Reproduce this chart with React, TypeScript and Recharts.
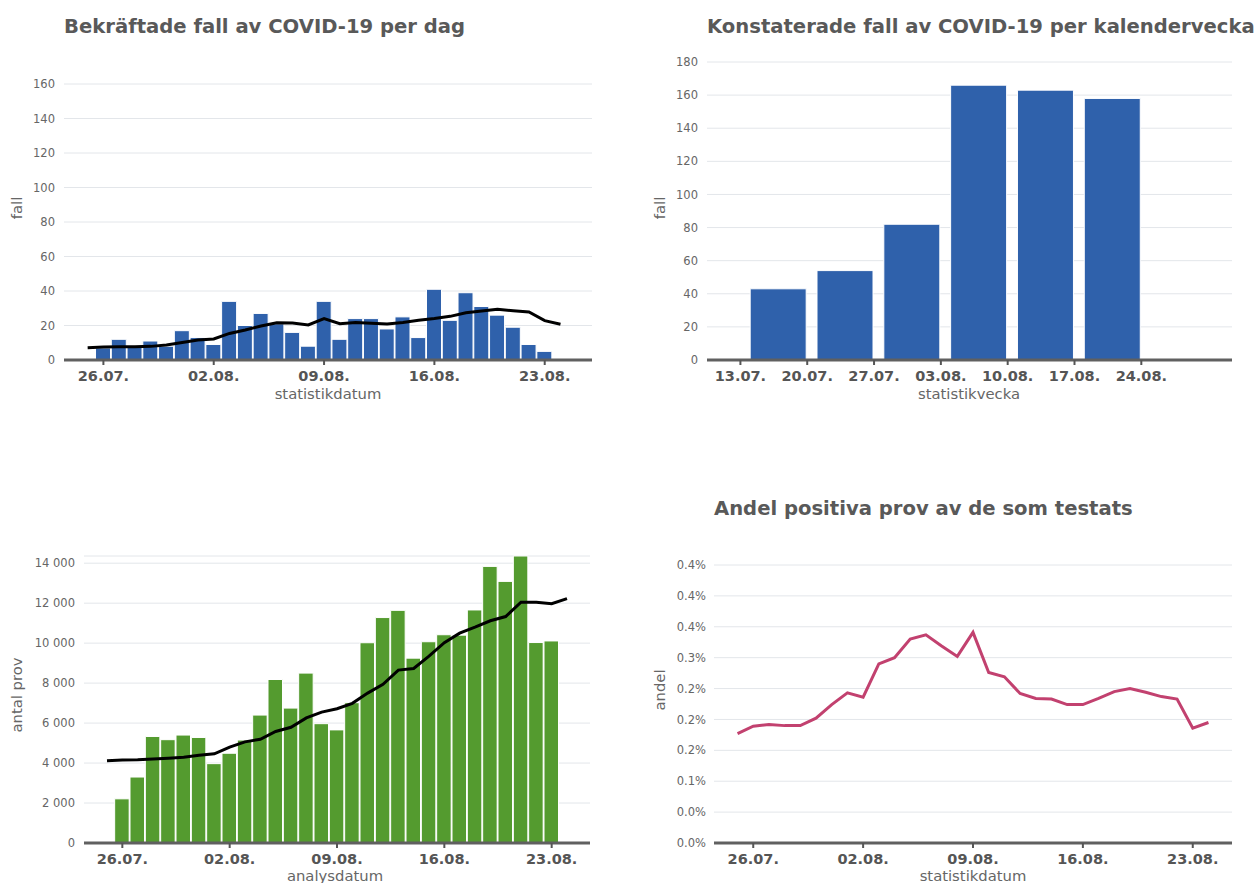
import React from 'react'
import { ComposedChart, BarChart, LineChart, Bar, Line, XAxis, YAxis, CartesianGrid } from 'recharts'

// days 25.07. .. 24.08.
const dayLabels = [
  '25.07.', '26.07.', '27.07.', '28.07.', '29.07.', '30.07.', '31.07.',
  '01.08.', '02.08.', '03.08.', '04.08.', '05.08.', '06.08.', '07.08.', '08.08.', '09.08.',
  '10.08.', '11.08.', '12.08.', '13.08.', '14.08.', '15.08.', '16.08.', '17.08.', '18.08.',
  '19.08.', '20.08.', '21.08.', '22.08.', '23.08.', '24.08.',
]
const dayTicks = [1, 8, 15, 22, 29]

const dailyCases = [
  null, 7, 12, 8, 11, 8, 17, 13, 9, 34, 20, 27, 21, 16, 8, 34,
  12, 24, 24, 18, 25, 13, 41, 23, 39, 31, 26, 19, 9, 5, null,
]
const casesAvg = [
  7.1, 7.5, 7.7, 7.7, 7.9, 8.7, 10.2, 11.6, 12.2, 15.4, 17.4, 19.7, 21.6, 21.4, 20.3, 24.0,
  21.0, 21.8, 21.3, 20.9, 21.8, 23.0, 24.0, 25.3, 27.4, 28.4, 29.4, 28.6, 27.8, 22.8, 20.7,
]

const dailyTests = [
  null, 2210, 3300, 5330, 5170, 5400, 5280, 3970, 4490, 5150, 6400, 8180, 6750, 8500, 5970, 5660,
  7020, 10020, 11280, 11640, 9250, 10070, 10420, 10400, 11660, 13840, 13090, 14360, 10030, 10110, null,
]
const testsAvg = [
  4110, 4150, 4160, 4200, 4240, 4290, 4390, 4460, 4800, 5060, 5190, 5580, 5790, 6260, 6550, 6720,
  6990, 7500, 7940, 8650, 8730, 9350, 10020, 10500, 10800, 11120, 11330, 12050, 12050, 11970, 12230,
]

// percent
const positiveShare = [
  0.177, 0.189, 0.192, 0.190, 0.190, 0.202, 0.224, 0.243, 0.236, 0.290, 0.300, 0.330, 0.337, 0.319, 0.302, 0.341,
  0.276, 0.269, 0.242, 0.234, 0.233, 0.224, 0.224, 0.234, 0.245, 0.250, 0.244, 0.237, 0.233, 0.186, 0.195,
]
const shareTicks = [0, 0.05, 0.1, 0.15, 0.2, 0.25, 0.3, 0.35, 0.4, 0.45]
const shareTickLabels = ['0.0%', '0.0%', '0.1%', '0.2%', '0.2%', '0.2%', '0.3%', '0.4%', '0.4%', '0.4%']

// weeks, day offset from 13.07.
const weekTickDays = [0, 7, 14, 21, 28, 35, 42]
const weekTickLabels = ['13.07.', '20.07.', '27.07.', '03.08.', '10.08.', '17.08.', '24.08.']
const weekBarDays = [4, 11, 18, 25, 32, 39]
const weeklyCases = [43, 54, 82, 166, 163, 158]

const casesTicks = [0, 20, 40, 60, 80, 100, 120, 140, 160]
const weekCasesTicks = [0, 20, 40, 60, 80, 100, 120, 140, 160, 180]
const testsTicks = [0, 2000, 4000, 6000, 8000, 10000, 12000, 14000]

const FONT = '"DejaVu Sans", sans-serif'
const BLUE = '#2f61ab'
const GREEN = '#549b2f'
const PINK = '#c2416f'
const GRID = '#e3e6ea'
const AXIS = '#606060'

const dailyRows = dayLabels.map((d, i) => ({
  x: i, cases: dailyCases[i], casesAvg: casesAvg[i], tests: dailyTests[i], testsAvg: testsAvg[i], share: positiveShare[i],
}))
const weekRows = weeklyCases.map((v, i) => ({ x: weekBarDays[i], cases: v }))

const yTick = { fill: '#666', fontSize: 11.5, fontFamily: FONT }
const xTick = { fill: '#555', fontSize: 14.5, fontWeight: 'bold', fontFamily: FONT }

const fmtThousands = (v: number) => (v >= 1000 ? `${Math.floor(v / 1000)} ${String(v % 1000).padStart(3, '0')}` : String(v))

function Title({ text, left, top }: { text: string, left: number, top: number }) {
  return (
    <div style={{ position: 'absolute', left, top, fontSize: 19.6, fontWeight: 'bold', color: '#595959', whiteSpace: 'nowrap', lineHeight: '22px' }}>
      {text}
    </div>
  )
}

function AxisTitle({ text, cx, cy, vertical }: { text: string, cx: number, cy: number, vertical?: boolean }) {
  return (
    <div style={{
      position: 'absolute', left: cx, top: cy, fontSize: 14.8, color: '#666', whiteSpace: 'nowrap', lineHeight: '16px',
      transform: `translate(-50%, -50%)${vertical ? ' rotate(-90deg)' : ''}`,
    }}>
      {text}
    </div>
  )
}

function xAxisProps() {
  return {
    axisLine: { stroke: AXIS, strokeWidth: 3 },
    tickLine: { stroke: '#555', strokeWidth: 2 },
    tickSize: 5,
    tickMargin: 6,
    tick: xTick,
    height: 40,
  }
}

export default function App() {
  return (
    <div style={{ position: 'absolute', left: 0, top: 0, width: 1255, height: 883, overflow: 'hidden', background: '#fff', fontFamily: FONT }}>
      <Title text="Bekräftade fall av COVID-19 per dag" left={64} top={16} />
      <Title text="Konstaterade fall av COVID-19 per kalendervecka" left={707} top={16} />
      <Title text="Andel positiva prov av de som testats" left={714} top={498} />

      <div style={{ position: 'absolute', left: 0, top: 0 }}>
        <ComposedChart width={620} height={400} data={dailyRows} margin={{ top: 84, right: 28, left: 0, bottom: 0 }}>
          <CartesianGrid horizontal vertical={false} stroke={GRID} />
          <XAxis type="number" dataKey="x" domain={[-1.5, 31.5]} ticks={dayTicks} allowDecimals={false}
            tickFormatter={(v: number) => dayLabels[v]} {...xAxisProps()} />
          <YAxis type="number" domain={[0, 160]} ticks={casesTicks} width={64} axisLine={false} tickLine={false}
            tickSize={0} tickMargin={9} tick={yTick} />
          <Bar dataKey="cases" fill={BLUE} stroke="#fff" strokeWidth={1} barSize={15} isAnimationActive={false} />
          <Line dataKey="casesAvg" type="linear" stroke="#000" strokeWidth={3} dot={false} isAnimationActive={false} />
        </ComposedChart>
      </div>
      <AxisTitle text="fall" cx={17} cy={208} vertical />
      <AxisTitle text="statistikdatum" cx={328} cy={394} />

      <div style={{ position: 'absolute', left: 640, top: 0 }}>
        <BarChart width={615} height={400} data={weekRows} margin={{ top: 62, right: 23, left: 0, bottom: 0 }}>
          <CartesianGrid horizontal vertical={false} stroke={GRID} />
          <XAxis type="number" dataKey="x" domain={[-3.5, 51.5]} ticks={weekTickDays}
            tickFormatter={(v: number) => weekTickLabels[weekTickDays.indexOf(v)]} {...xAxisProps()} />
          <YAxis type="number" domain={[0, 180]} ticks={weekCasesTicks} width={67} axisLine={false} tickLine={false}
            tickSize={0} tickMargin={9} tick={yTick} />
          <Bar dataKey="cases" fill={BLUE} stroke="#fff" strokeWidth={1} barSize={56} isAnimationActive={false} />
        </BarChart>
      </div>
      <AxisTitle text="fall" cx={660} cy={208} vertical />
      <AxisTitle text="statistikvecka" cx={969} cy={394} />

      <div style={{ position: 'absolute', left: 0, top: 480 }}>
        <ComposedChart width={620} height={403} data={dailyRows} margin={{ top: 76, right: 30, left: 0, bottom: 0 }}>
          <CartesianGrid horizontal vertical={false} stroke={GRID} />
          <XAxis type="number" dataKey="x" domain={[-1.5, 31.5]} ticks={dayTicks}
            tickFormatter={(v: number) => dayLabels[v]} {...xAxisProps()} />
          <YAxis type="number" domain={[0, 14000]} ticks={testsTicks} width={84} axisLine={false} tickLine={false}
            tickSize={0} tickMargin={9} tick={yTick} tickFormatter={fmtThousands} />
          <Bar dataKey="tests" fill={GREEN} stroke="#fff" strokeWidth={1} barSize={14.5} isAnimationActive={false} />
          <Line dataKey="testsAvg" type="linear" stroke="#000" strokeWidth={3} dot={false} isAnimationActive={false} />
        </ComposedChart>
      </div>
      <AxisTitle text="antal prov" cx={17} cy={695} vertical />
      <AxisTitle text="analysdatum" cx={335} cy={876} />

      <div style={{ position: 'absolute', left: 640, top: 480 }}>
        <LineChart width={615} height={403} data={dailyRows} margin={{ top: 85, right: 23, left: 0, bottom: 0 }}>
          <CartesianGrid horizontal vertical={false} stroke={GRID} />
          <XAxis type="number" dataKey="x" domain={[-1.5, 31.5]} ticks={dayTicks}
            tickFormatter={(v: number) => dayLabels[v]} {...xAxisProps()} />
          <YAxis type="number" domain={[0, 0.45]} ticks={shareTicks} width={74} axisLine={false} tickLine={false}
            tickSize={0} tickMargin={8} tick={yTick}
            tickFormatter={(v: number) => shareTickLabels[shareTicks.indexOf(v)]} />
          <Line dataKey="share" type="linear" stroke={PINK} strokeWidth={3} dot={false} isAnimationActive={false} />
        </LineChart>
      </div>
      <AxisTitle text="andel" cx={660} cy={690} vertical />
      <AxisTitle text="statistikdatum" cx={973} cy={876} />
    </div>
  )
}
